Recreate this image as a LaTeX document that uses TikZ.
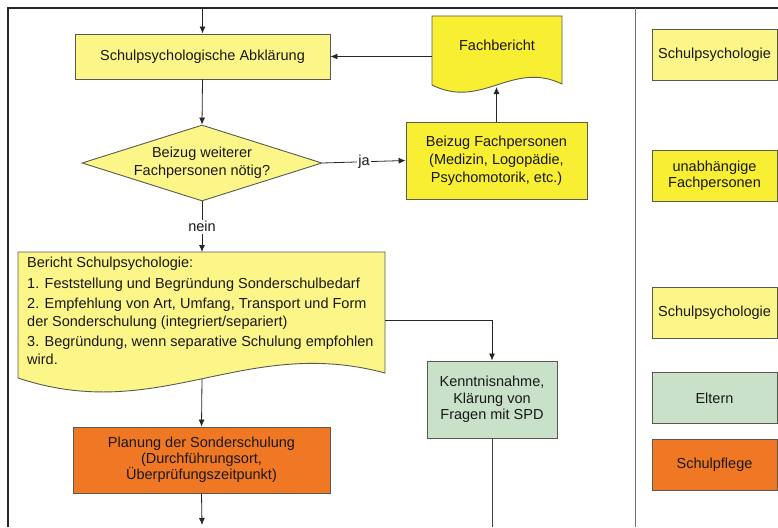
\documentclass[tikz,border=0pt]{standalone}
\usepackage{fontspec}
\setmainfont{Liberation Sans}
\usetikzlibrary{shapes.geometric,arrows.meta}
\definecolor{lightyel}{RGB}{252,245,135}
\definecolor{brightyel}{RGB}{248,238,50}
\definecolor{paleg}{RGB}{200,225,200}
\definecolor{orng}{RGB}{240,120,36}
\definecolor{edge}{RGB}{90,90,80}
\definecolor{txt}{RGB}{25,25,25}
\begin{document}
\begin{tikzpicture}[x=1pt,y=-1pt,
  font=\fontsize{14.5}{18}\selectfont,
  every node/.style={text=txt},
  boxstyle/.style={draw=edge, line width=0.9pt, rectangle, align=center, inner sep=2pt},
  lyel/.style={boxstyle, fill=lightyel},
  byel/.style={boxstyle, fill=brightyel},
  grn/.style={boxstyle, fill=paleg},
  org/.style={boxstyle, fill=orng},
  legbox/.style={minimum width=125pt, minimum height=51pt},
  arr/.style={draw=black!85, line width=0.8pt, -{Latex[length=7pt,width=6pt]}},
  con/.style={draw=black!75, line width=0.8pt},
  lbl/.style={fill=white, inner sep=1.5pt}
]
\useasboundingbox (0,0) rectangle (778,527);
% frame
\draw[line width=1.2pt, black!85] (8,527) -- (8,8) -- (778,8);
\draw[line width=0.8pt, black!55] (635,8) -- (635,527);

% document shapes
\draw[draw=edge, line width=0.9pt, fill=brightyel]
  (432,16) -- (562,16) -- (562,84) .. controls (512,60) and (482,110) .. (432,85) -- cycle;
\draw[draw=edge, line width=0.9pt, fill=lightyel]
  (18,252) -- (385,252) -- (385,373) .. controls (244,335) and (159,425) .. (18,378) -- cycle;

% nodes
\node[lyel, minimum width=255pt, minimum height=45pt] (abkl) at (202.5,56.5) {Schulpsychologische Abklärung};
\node[lyel, shape=diamond, aspect=3.16, inner sep=0pt, minimum width=240pt, minimum height=76pt, align=center] (dia) at (202,163) {Beizug weiterer\\Fachpersonen nötig?};
\node[byel, minimum width=181pt, minimum height=77pt] (beizug) at (496.5,160.5) {Beizug Fachpersonen\\(Medizin, Logopädie,\\Psychomotorik, etc.)};
\node[inner sep=0pt] (fach) at (497,45) {Fachbericht};
\node[anchor=north west, inner sep=0pt, align=left, font=\fontsize{14.5}{17.5}\selectfont] (ber) at (27,257)
  {Bericht Schulpsychologie:\\[3pt]
   1. Feststellung und Begründung Sonderschulbedarf\\[3pt]
   2. Empfehlung von Art, Umfang, Transport und Form\\
   der Sonderschulung (integriert/separiert)\\[3pt]
   3. Begründung, wenn separative Schulung empfohlen\\
   wird.};
\node[grn, minimum width=130pt, minimum height=77pt, font=\fontsize{14.5}{16.5}\selectfont] (kennt) at (492,399.5) {Kenntnisnahme,\\Klärung von\\Fragen mit SPD};
\node[org, minimum width=257pt, minimum height=66pt, font=\fontsize{14.5}{15.8}\selectfont] (plan) at (201.5,460) {Planung der Sonderschulung\\(Durchführungsort,\\Überprüfungszeitpunkt)};

% legend
\node[lyel, legbox] (leg1) at (714.5,54.5) {Schulpsychologie};
\node[byel, legbox, font=\fontsize{14.5}{16}\selectfont] (leg2) at (714.5,175.5) {unabhängige\\Fachpersonen};
\node[lyel, legbox] (leg3) at (714.5,312.5) {Schulpsychologie};
\node[grn, legbox] (leg4) at (714.5,398) {Eltern};
\node[org, legbox] (leg5) at (714.5,465) {Schulpflege};

% coordinates
\coordinate (topin) at (202.5,8);
\coordinate (fachL) at (432,56.5);
\coordinate (fachB) at (496.5,87);
\coordinate (berT) at (202,252);
\coordinate (berR) at (385,320);
\coordinate (berB) at (202,379);
\coordinate (botL) at (202,525);
\coordinate (botR) at (492,527);

% connectors
\draw[arr] (topin) -- (abkl.north);
\draw[arr] (abkl.south) -- (dia.north);
\draw[arr] (dia.east) -- node[lbl] {ja} (beizug.west);
\draw[arr] (beizug.north) -- (fachB);
\draw[arr] (fachL) -- (abkl.east);
\draw[arr] (dia.south) -- node[lbl] {nein} (berT);
\draw[arr] (berR) -| (kennt.north);
\draw[arr] (berB) -- (plan.north);
\draw[arr] (plan.south) -- (botL);
\draw[con] (kennt.south) -- (botR);
\end{tikzpicture}
\end{document}
